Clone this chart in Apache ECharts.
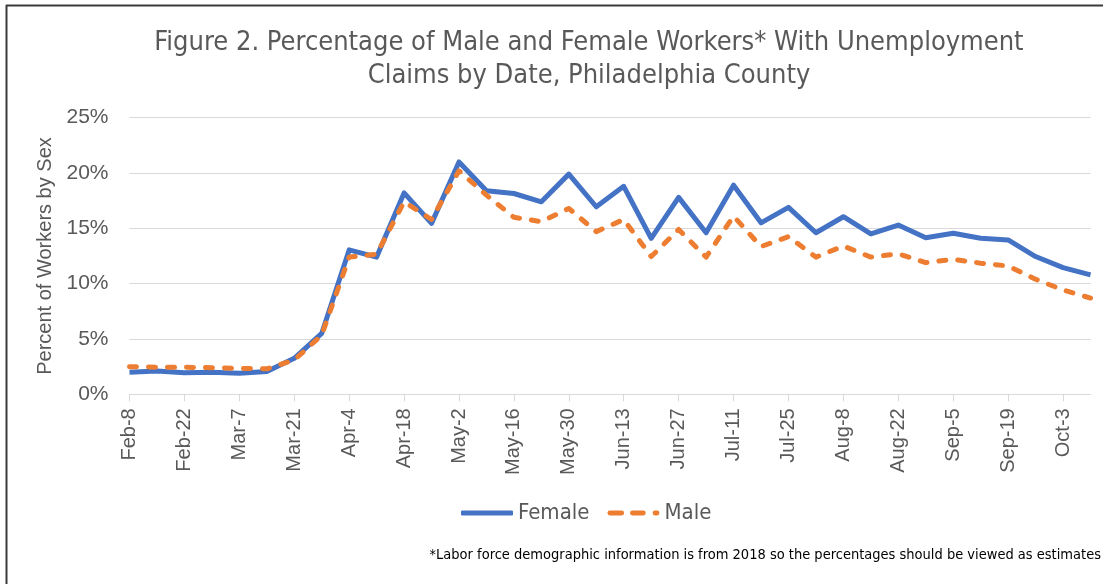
<!DOCTYPE html>
<html>
<head>
<meta charset="utf-8">
<script src="https://cdn.jsdelivr.net/npm/echarts@6/dist/echarts.min.js"></script>
<style>
html,body{margin:0;padding:0;background:#fff;}
#chart{width:1106px;height:584px;}
</style>
</head>
<body>
<div id="chart"></div>
<script>
const categories = ['Feb-8','Feb-15','Feb-22','Feb-29','Mar-7','Mar-14','Mar-21','Mar-28','Apr-4','Apr-11','Apr-18','Apr-25','May-2','May-9','May-16','May-23','May-30','Jun-6','Jun-13','Jun-20','Jun-27','Jul-4','Jul-11','Jul-18','Jul-25','Aug-1','Aug-8','Aug-15','Aug-22','Aug-29','Sep-5','Sep-12','Sep-19','Sep-26','Oct-3','Oct-10'];
const female = [2.0, 2.1, 1.95, 2.0, 1.9, 2.05, 3.25, 5.5, 13.05, 12.4, 18.2, 15.45, 21.0, 18.4, 18.15, 17.4, 19.9, 16.95, 18.8, 14.1, 17.8, 14.6, 18.9, 15.5, 16.9, 14.6, 16.05, 14.5, 15.3, 14.15, 14.55, 14.1, 13.95, 12.45, 11.45, 10.8];
const male = [2.5, 2.45, 2.45, 2.4, 2.35, 2.3, 3.1, 5.35, 12.4, 12.65, 17.4, 15.8, 20.2, 18.0, 16.0, 15.6, 16.8, 14.7, 15.8, 12.45, 14.9, 12.4, 16.1, 13.35, 14.25, 12.4, 13.4, 12.4, 12.7, 11.9, 12.2, 11.85, 11.6, 10.4, 9.43, 8.7];
const yTicks = [0, 5, 10, 15, 20, 25];
const titleText = 'Figure 2. Percentage of Male and Female Workers* With Unemployment\nClaims by Date, Philadelphia County';
const yAxisTitle = 'Percent of Workers by Sex';
const footnote = '*Labor force demographic information is from 2018 so the percentages should be viewed as estimates';

const narrow = '"DejaVu Sans Condensed", "DejaVu Sans", sans-serif';
const chart = echarts.init(document.getElementById('chart'));
const grey = '#595959';
const maleIcon = 'path://M2.5,0 H14.5 A2.5,2.5 0 0 1 14.5,5 H2.5 A2.5,2.5 0 0 1 2.5,0 Z M25.5,0 H36.5 A2.5,2.5 0 0 1 36.5,5 H25.5 A2.5,2.5 0 0 1 25.5,0 Z M48.5,0 H50.5 A2.5,2.5 0 0 1 50.5,5 H48.5 A2.5,2.5 0 0 1 48.5,0 Z';
chart.setOption({
  backgroundColor: '#fff',
  animation: false,
  title: {
    text: titleText,
    left: 584, top: 21, textAlign: 'center',
    textStyle: { fontFamily: narrow, fontWeight: 'normal', fontSize: 27, color: grey, lineHeight: 33 }
  },
  legend: {
    left: 456, top: 497,
    itemWidth: 52, itemHeight: 5, itemGap: 18,
    textStyle: { fontFamily: narrow, fontSize: 22, color: grey },
    data: [{ name: 'Female', icon: 'roundRect' }, { name: 'Male', icon: maleIcon }]
  },
  grid: { left: 129.5, right: 15.5, top: 117.7, bottom: 189.7 },
  xAxis: {
    type: 'category', data: categories, boundaryGap: false,
    axisLine: { lineStyle: { color: '#d9d9d9', width: 1 } },
    axisTick: { interval: 1, length: 7, lineStyle: { color: '#d9d9d9' } },
    axisLabel: { interval: 1, rotate: 90, margin: 14, fontFamily: 'Liberation Sans', fontSize: 20, color: grey }
  },
  yAxis: {
    type: 'value', min: yTicks[0], max: yTicks[yTicks.length - 1], interval: 5,
    name: yAxisTitle, nameLocation: 'middle', nameGap: 74, nameRotate: 90,
    nameTextStyle: { fontFamily: 'Liberation Sans', fontSize: 20, color: grey },
    axisLine: { show: false }, axisTick: { show: false },
    axisLabel: { formatter: '{value}%', margin: 21, fontFamily: 'Liberation Sans', fontSize: 21, color: grey },
    splitLine: { lineStyle: { color: '#d9d9d9', width: 1 } }
  },
  series: [
    { name: 'Female', type: 'line', data: female, symbol: 'none', showSymbol: false,
      lineStyle: { color: '#4472C4', width: 5, join: 'round' }, itemStyle: { color: '#4472C4' } },
    { name: 'Male', type: 'line', data: male, symbol: 'none', showSymbol: false,
      lineStyle: { color: '#ED7D31', width: 5, type: [7, 12], cap: 'round', join: 'round' }, itemStyle: { color: '#ED7D31' } }
  ],
  graphic: [
    { type: 'text', right: 5, top: 548, style: { text: footnote, fontFamily: narrow, fontSize: 14.5, fill: '#000' } },
    { type: 'line', shape: { x1: 6, y1: 5.5, x2: 1103, y2: 5.5 }, style: { stroke: '#3a3a3a', lineWidth: 2 } },
    { type: 'line', shape: { x1: 6.5, y1: 5, x2: 6.5, y2: 584 }, style: { stroke: '#3a3a3a', lineWidth: 2 } }
  ]
});
</script>
</body>
</html>
